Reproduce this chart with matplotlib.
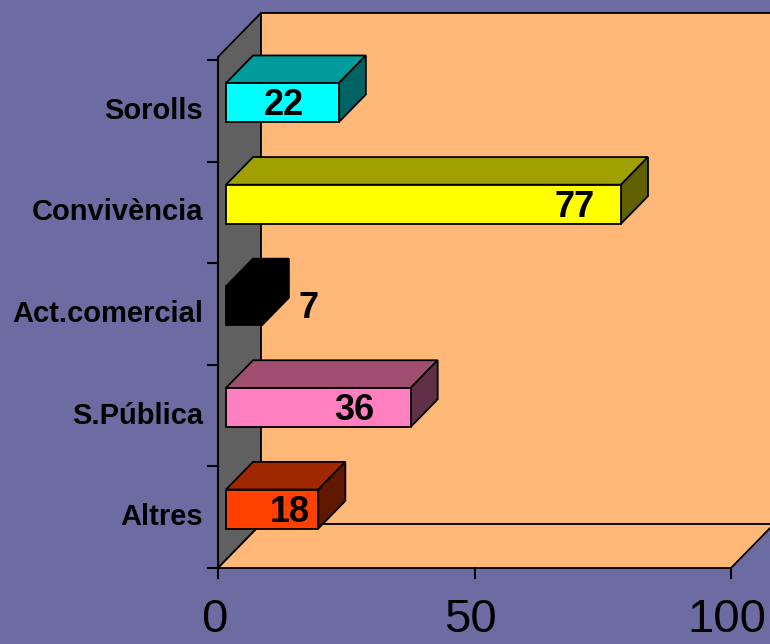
import numpy as np
import matplotlib
matplotlib.use("Agg")
import matplotlib.pyplot as plt
from matplotlib.patches import Polygon

# data (bottom to top)
categories = ["Altres", "S.Pública", "Act.comercial", "Convivència", "Sorolls"]
values = [18, 36, 7, 77, 22]
label_x = [12.5, 25, 16, 68, 11.3]   # where Excel put the value labels
x_ticks = [0, 50, 100]

front_cols = ["#FF4000", "#FF80C0", "#000000", "#FFFF00", "#00FFFF"]
top_cols = ["#A02800", "#A0506E", "#000000", "#A0A000", "#009C9C"]
side_cols = ["#601800", "#603048", "#000000", "#606000", "#006262"]

bg = "#6C6CA2"
wall = "#FFB878"
side_wall = "#606060"

plt.rcParams["font.family"] = ["Liberation Sans", "DejaVu Sans"]

fig = plt.figure(figsize=(7.7, 6.44), dpi=100, facecolor=bg)
ax = fig.add_axes([0, 0, 1, 1])
ax.set_facecolor(bg)
ax.axis("off")

# pixel scale of the front plane
sx = 513 / 100.0   # px per value unit
sy = 101.6         # px per category
x0_px, y0_px = 218, 644 - 568
ax.set_xlim(-x0_px / sx, (770 - x0_px) / sx)
ax.set_ylim(-0.5 - y0_px / sy, -0.5 + (644 - y0_px) / sy)

D = np.array([43 / sx, 44 / sy])     # depth of the box
f0, f1 = 8 / 43, 35 / 43             # bar front / back depth
h = 0.192
ybot, ytop = -0.5, 4.53
xmax = x_ticks[-1]

def poly(pts, fc, lw=1.3, z=1):
    ax.add_patch(Polygon(pts, closed=True, facecolor=fc, edgecolor="black",
                         linewidth=lw, zorder=z, joinstyle="miter"))

P = lambda x, y, f=0: (x + f * D[0], y + f * D[1])

# walls and floor
poly([P(0, ybot), P(0, ytop), P(0, ytop, 1), P(0, ybot, 1)], side_wall)
poly([P(0, ybot, 1), P(xmax, ybot, 1), P(xmax, ytop, 1), P(0, ytop, 1)], wall)
poly([P(0, ybot), P(xmax, ybot), P(xmax, ybot, 1), P(0, ybot, 1)], wall)

# bars
for i, v in enumerate(values):
    lo, hi = i - h, i + h
    poly([P(0, hi, f0), P(v, hi, f0), P(v, hi, f1), P(0, hi, f1)], top_cols[i], z=3)
    poly([P(v, lo, f0), P(v, hi, f0), P(v, hi, f1), P(v, lo, f1)], side_cols[i], z=3)
    poly([P(0, lo, f0), P(v, lo, f0), P(v, hi, f0), P(0, hi, f0)], front_cols[i], z=4)
    lx, ly = P(label_x[i], i - 3 / sy, f0)
    ax.text(lx, ly, str(v), ha="center", va="center", fontsize=26,
            fontweight="bold", color="black", zorder=6)

# axes lines and ticks
tk_x = 10 / sx
tk_y = 10 / sy
ax.plot([0, 0], [ybot - tk_y * 0.7, ytop], color="black", lw=1.5, zorder=5)
for b in np.arange(-0.5, len(categories), 1.0):
    ax.plot([-tk_x, 0], [b, b], color="black", lw=1.5, zorder=5)
for t in x_ticks:
    ax.plot([t, t], [ybot, ybot - tk_y], color="black", lw=1.5, zorder=5)
    ax.text(t - 0.8, ybot - 52 / sy, str(t), ha="center", va="center",
            fontsize=34, color="black")

for i, c in enumerate(categories):
    ax.text(-15 / sx, i, c, ha="right", va="center", fontsize=21,
            fontweight="bold", color="black")

fig.savefig("out.png", dpi=100, facecolor=bg)
